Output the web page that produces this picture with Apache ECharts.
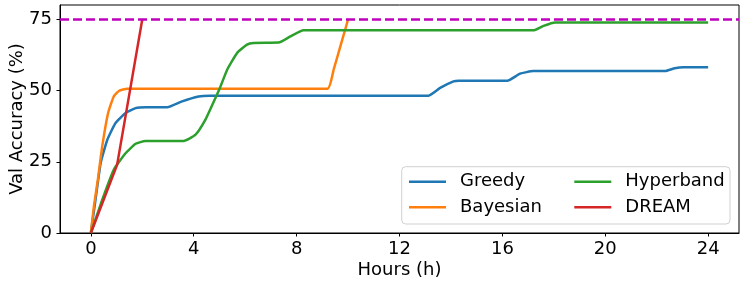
<!DOCTYPE html>
<html>
<head>
<meta charset="utf-8">
<script src="https://cdn.jsdelivr.net/npm/echarts@6/dist/echarts.min.js"></script>
<style>
html,body{margin:0;padding:0;background:#fff;}
#chart{width:747px;height:285px;}
</style>
</head>
<body>
<div id="chart"></div>
<script>
// ---- data ----
const hourTicks = [0, 4, 8, 12, 16, 20, 24];
const accTicks = [0, 25, 50, 75];
const targetAccuracy = 75;

const greedy = [[0,0],[0.18,11.6],[0.38,24.5],[0.64,32.7],[0.96,38.6],[1.35,42.1],[1.74,43.8],[2.13,44.1],[2.97,44.1],[3.55,46.2],[4.19,47.9],[4.6,48.2],[13.13,48.2],[13.58,50.9],[14.1,53.2],[14.3,53.4],[16.19,53.4],[16.69,55.9],[17.2,56.8],[22.32,56.8],[22.7,57.8],[23.03,58.2],[24,58.2]];
const bayesian = [[0,0],[0.12,9.5],[0.27,18.6],[0.44,30.3],[0.67,42.1],[0.89,47.9],[1.1,49.9],[1.41,50.6],[9.2,50.6],[9.44,57.3],[9.7,65.5],[9.89,71.4],[10.0,75]];
const hyperband = [[0,0],[0.44,11.6],[0.89,22.2],[1.35,28],[1.74,31.3],[2.12,32.3],[3.61,32.3],[4.07,34.5],[4.45,39.7],[4.75,45.5],[5.0,50.5],[5.3,57.3],[5.69,63.2],[6.07,66.1],[6.33,66.7],[7.3,66.8],[7.76,69],[8.27,71.1],[17.2,71.1],[17.6,72.7],[18.05,73.9],[24,73.9]];
const dream = [[0,0],[1.02,23.9],[2.0,75]];

const seriesNames = ['Greedy', 'Bayesian', 'Hyperband', 'DREAM'];
const seriesData = [greedy, bayesian, hyperband, dream];
const seriesColors = ['#1f77b4', '#ff7f0e', '#2ca02c', '#d62728'];
const seriesSmooth = [0.15, 0.15, 0.15, false];

const FONT = 'DejaVu Sans';
const chart = echarts.init(document.getElementById('chart'), null, {renderer: 'canvas'});

const series = seriesNames.map((n, i) => ({
  name: n,
  type: 'line',
  data: seriesData[i],
  showSymbol: false,
  symbol: 'none',
  smooth: seriesSmooth[i],
  color: seriesColors[i],
  lineStyle: {width: 2.5, color: seriesColors[i]},
  z: 3,
  animation: false
}));
series.push({
  name: 'target',
  type: 'line',
  data: [],
  markLine: {
    silent: true,
    symbol: 'none',
    label: {show: false},
    lineStyle: {color: '#bf00bf', width: 2.5, type: [9, 4]},
    data: [{yAxis: targetAccuracy}]
  },
  animation: false
});

const legendIcon = 'path://M0,0L37,0L37,2.6L0,2.6Z';
const legendCommon = {
  orient: 'vertical',
  padding: 0,
  itemWidth: 37,
  itemHeight: 20,
  itemGap: 5.6,
  icon: legendIcon,
  symbolKeepAspect: true,
  textStyle: {fontFamily: FONT, fontSize: 18, color: '#000', lineHeight: 20, padding: [0, 0, 0, 9]},
  top: 171.7,
  selectedMode: false,
  z: 20
};

chart.setOption({
  animation: false,
  grid: {left: 60, top: 5, right: 8, bottom: 52, show: true, borderColor: '#000', borderWidth: 1, containLabel: false, outerBoundsMode: 'none'},
  xAxis: {
    type: 'value', min: -1.2, max: 25.2,
    name: 'Hours (h)', nameLocation: 'middle', nameGap: 28, nameMoveOverlap: false,
    nameTextStyle: {fontFamily: FONT, fontSize: 18, color: '#000'},
    axisLine: {show: true, onZero: false, lineStyle: {color: '#000', width: 1}},
    axisTick: {show: true, inside: false, length: 3.5, lineStyle: {color: '#000', width: 1}, customValues: hourTicks},
    axisLabel: {fontFamily: FONT, fontSize: 18, color: '#000', margin: 7, customValues: hourTicks},
    splitLine: {show: false}
  },
  yAxis: {
    type: 'value', min: 0, max: 80,
    name: 'Val Accuracy (%)', nameLocation: 'middle', nameGap: 34, nameMoveOverlap: false,
    nameTextStyle: {fontFamily: FONT, fontSize: 18, color: '#000'},
    axisLine: {show: true, onZero: false, lineStyle: {color: '#000', width: 1}},
    axisTick: {show: true, inside: false, length: 3.5, lineStyle: {color: '#000', width: 1}, customValues: accTicks},
    axisLabel: {fontFamily: FONT, fontSize: 18, color: '#000', margin: 8, customValues: accTicks},
    splitLine: {show: false}
  },
  legend: [
    Object.assign({}, legendCommon, {left: 409, data: ['Greedy', 'Bayesian']}),
    Object.assign({}, legendCommon, {left: 574.3, data: ['Hyperband', 'DREAM']})
  ],
  graphic: [{
    type: 'rect',
    shape: {x: 401.7, y: 166.7, width: 328.3, height: 57.3, r: 4},
    style: {fill: 'rgba(255,255,255,0.8)', stroke: '#d0d0d0', lineWidth: 1},
    z: 5
  }],
  series: series
});
</script>
</body>
</html>
